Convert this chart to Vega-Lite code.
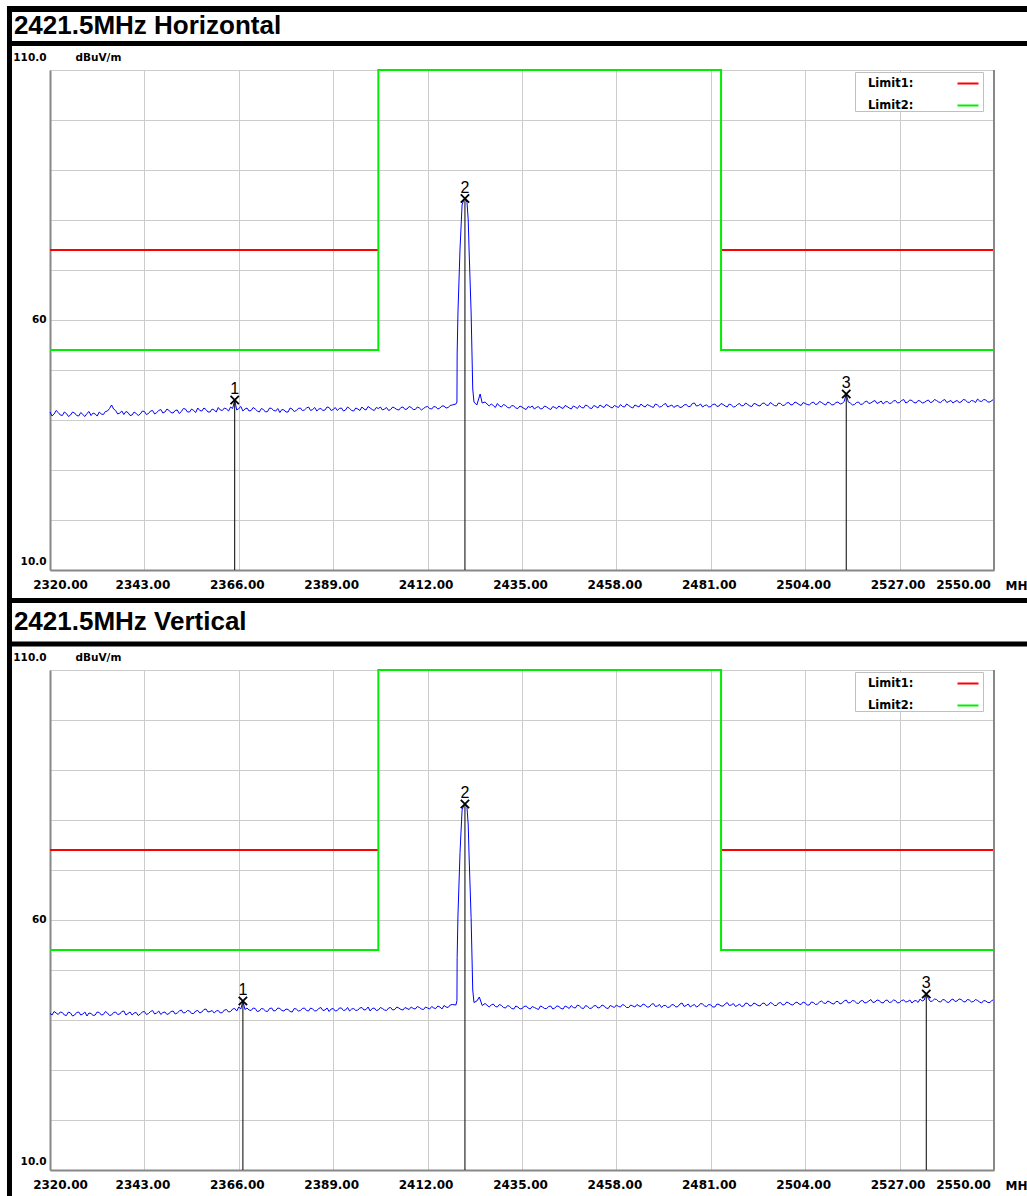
{
"$schema":"https://vega.github.io/schema/vega-lite/v6.json",
"padding":{"left":5,"top":4,"right":0,"bottom":0},
"background":"white",
"bounds":"flush",
"spacing":100,
"resolve":{"scale":{"color":"independent"}},
"datasets":{
"h":[{"f":2320,"L":41.6},{"f":2321,"L":41.2},{"f":2322,"L":41.5},{"f":2323,"L":40.9},{"f":2324,"L":41.3},{"f":2325,"L":41.0},{"f":2326,"L":41.4},{"f":2327,"L":40.8},{"f":2328,"L":41.1},{"f":2329,"L":41.3},{"f":2330,"L":40.9},{"f":2331,"L":41.2},{"f":2332,"L":41.6},{"f":2333,"L":41.1},{"f":2334,"L":41.8},{"f":2335,"L":43.0},{"f":2336,"L":41.9},{"f":2337,"L":41.4},{"f":2338,"L":41.1},{"f":2339,"L":41.5},{"f":2340,"L":41.0},{"f":2341,"L":41.3},{"f":2342,"L":41.2},{"f":2343,"L":41.7},{"f":2344,"L":41.3},{"f":2345,"L":41.9},{"f":2346,"L":41.5},{"f":2347,"L":42.1},{"f":2348,"L":41.6},{"f":2349,"L":41.9},{"f":2350,"L":41.4},{"f":2351,"L":42.0},{"f":2352,"L":41.7},{"f":2353,"L":42.2},{"f":2354,"L":41.6},{"f":2355,"L":41.9},{"f":2356,"L":42.4},{"f":2357,"L":41.8},{"f":2358,"L":42.1},{"f":2359,"L":41.6},{"f":2360,"L":42.0},{"f":2361,"L":42.5},{"f":2362,"L":41.9},{"f":2363,"L":42.2},{"f":2364,"L":42.6},{"f":2365,"L":44.0},{"f":2366,"L":42.3},{"f":2367,"L":41.8},{"f":2368,"L":42.4},{"f":2369,"L":41.9},{"f":2370,"L":42.2},{"f":2371,"L":41.6},{"f":2372,"L":42.1},{"f":2373,"L":41.7},{"f":2374,"L":42.3},{"f":2375,"L":41.8},{"f":2376,"L":41.5},{"f":2377,"L":42.0},{"f":2378,"L":41.6},{"f":2379,"L":42.2},{"f":2380,"L":41.9},{"f":2381,"L":42.4},{"f":2382,"L":42.0},{"f":2383,"L":42.6},{"f":2384,"L":42.1},{"f":2385,"L":41.8},{"f":2386,"L":42.3},{"f":2387,"L":42.0},{"f":2388,"L":42.5},{"f":2389,"L":42.1},{"f":2390,"L":41.9},{"f":2391,"L":42.4},{"f":2392,"L":42.0},{"f":2393,"L":42.3},{"f":2394,"L":41.8},{"f":2395,"L":42.2},{"f":2396,"L":42.6},{"f":2397,"L":42.0},{"f":2398,"L":42.4},{"f":2399,"L":41.9},{"f":2400,"L":42.3},{"f":2401,"L":42.0},{"f":2402,"L":42.5},{"f":2403,"L":42.1},{"f":2404,"L":42.4},{"f":2405,"L":42.0},{"f":2406,"L":42.6},{"f":2407,"L":42.2},{"f":2408,"L":42.5},{"f":2409,"L":42.1},{"f":2410,"L":42.4},{"f":2411,"L":42.3},{"f":2412,"L":42.7},{"f":2413,"L":42.2},{"f":2414,"L":42.6},{"f":2415,"L":42.4},{"f":2416,"L":42.8},{"f":2417,"L":42.5},{"f":2418,"L":43.0},{"f":2418.9,"L":43.2},{"f":2419.15,"L":43.6},{"f":2419.2,"L":53.2},{"f":2419.4,"L":61.6},{"f":2419.9,"L":74.2},{"f":2420.4,"L":83.0},{"f":2420.8,"L":84.0},{"f":2421.1,"L":84.3},{"f":2421.6,"L":83.5},{"f":2421.9,"L":80.0},{"f":2422.1,"L":74.2},{"f":2422.6,"L":61.6},{"f":2423.0,"L":46.2},{"f":2423.3,"L":43.6},{"f":2424,"L":43.0},{"f":2424.8,"L":45.2},{"f":2425.3,"L":43.4},{"f":2426,"L":43.6},{"f":2427,"L":42.8},{"f":2428,"L":42.9},{"f":2429,"L":43.3},{"f":2430,"L":42.6},{"f":2431,"L":42.9},{"f":2432,"L":42.4},{"f":2433,"L":42.8},{"f":2434,"L":42.3},{"f":2435,"L":42.6},{"f":2436,"L":42.1},{"f":2437,"L":42.5},{"f":2438,"L":42.2},{"f":2439,"L":42.7},{"f":2440,"L":42.3},{"f":2441,"L":42.6},{"f":2442,"L":42.1},{"f":2443,"L":42.5},{"f":2444,"L":42.8},{"f":2445,"L":42.3},{"f":2446,"L":42.7},{"f":2447,"L":42.2},{"f":2448,"L":42.6},{"f":2449,"L":42.9},{"f":2450,"L":42.4},{"f":2451,"L":42.8},{"f":2452,"L":42.3},{"f":2453,"L":42.7},{"f":2454,"L":43.0},{"f":2455,"L":42.5},{"f":2456,"L":42.9},{"f":2457,"L":42.4},{"f":2458,"L":42.7},{"f":2459,"L":43.1},{"f":2460,"L":42.6},{"f":2461,"L":42.9},{"f":2462,"L":42.4},{"f":2463,"L":42.8},{"f":2464,"L":43.2},{"f":2465,"L":42.6},{"f":2466,"L":42.9},{"f":2467,"L":42.5},{"f":2468,"L":43.0},{"f":2469,"L":42.7},{"f":2470,"L":43.3},{"f":2471,"L":42.8},{"f":2472,"L":42.5},{"f":2473,"L":42.9},{"f":2474,"L":42.6},{"f":2475,"L":43.1},{"f":2476,"L":42.7},{"f":2477,"L":43.4},{"f":2478,"L":42.9},{"f":2479,"L":42.6},{"f":2480,"L":43.0},{"f":2481,"L":42.7},{"f":2482,"L":43.2},{"f":2483,"L":42.8},{"f":2484,"L":43.1},{"f":2485,"L":42.6},{"f":2486,"L":43.0},{"f":2487,"L":42.7},{"f":2488,"L":43.3},{"f":2489,"L":42.9},{"f":2490,"L":43.1},{"f":2491,"L":42.7},{"f":2492,"L":43.2},{"f":2493,"L":42.8},{"f":2494,"L":43.4},{"f":2495,"L":42.9},{"f":2496,"L":43.2},{"f":2497,"L":42.8},{"f":2498,"L":43.3},{"f":2499,"L":43.0},{"f":2500,"L":43.5},{"f":2501,"L":43.1},{"f":2502,"L":43.4},{"f":2503,"L":42.9},{"f":2504,"L":43.3},{"f":2505,"L":43.0},{"f":2506,"L":43.6},{"f":2507,"L":43.2},{"f":2508,"L":43.5},{"f":2509,"L":43.0},{"f":2510,"L":43.4},{"f":2511,"L":43.1},{"f":2512,"L":43.6},{"f":2513,"L":43.3},{"f":2514,"L":45.2},{"f":2515,"L":43.4},{"f":2516,"L":43.1},{"f":2517,"L":43.6},{"f":2518,"L":43.2},{"f":2519,"L":43.8},{"f":2520,"L":43.4},{"f":2521,"L":43.9},{"f":2522,"L":43.5},{"f":2523,"L":43.2},{"f":2524,"L":43.7},{"f":2525,"L":43.4},{"f":2526,"L":43.9},{"f":2527,"L":43.5},{"f":2528,"L":44.1},{"f":2529,"L":43.6},{"f":2530,"L":43.9},{"f":2531,"L":43.4},{"f":2532,"L":43.8},{"f":2533,"L":43.5},{"f":2534,"L":44.0},{"f":2535,"L":43.6},{"f":2536,"L":43.9},{"f":2537,"L":43.5},{"f":2538,"L":44.1},{"f":2539,"L":43.7},{"f":2540,"L":43.4},{"f":2541,"L":43.9},{"f":2542,"L":43.6},{"f":2543,"L":44.0},{"f":2544,"L":43.5},{"f":2545,"L":43.8},{"f":2546,"L":44.2},{"f":2547,"L":43.7},{"f":2548,"L":44.0},{"f":2549,"L":43.6},{"f":2550,"L":44.2},
{"f":2320.5,"L":40.8},{"f":2321.5,"L":41.9},{"f":2322.5,"L":41.0},{"f":2323.5,"L":41.6},{"f":2324.5,"L":40.7},{"f":2325.5,"L":41.6},{"f":2326.5,"L":40.9},{"f":2327.5,"L":41.5},{"f":2328.5,"L":40.7},{"f":2329.5,"L":41.7},{"f":2330.5,"L":41.4},{"f":2331.5,"L":40.8},{"f":2332.5,"L":41.2},{"f":2333.5,"L":41.7},{"f":2334.5,"L":42.3},{"f":2335.5,"L":42.2},{"f":2336.5,"L":41.2},{"f":2337.5,"L":41.8},{"f":2338.5,"L":41.7},{"f":2339.5,"L":40.9},{"f":2340.5,"L":41.6},{"f":2341.5,"L":40.9},{"f":2342.5,"L":41.8},{"f":2343.5,"L":41.1},{"f":2344.5,"L":41.8},{"f":2345.5,"L":41.2},{"f":2346.5,"L":41.9},{"f":2347.5,"L":41.4},{"f":2348.5,"L":42.2},{"f":2349.5,"L":41.5},{"f":2350.5,"L":41.9},{"f":2351.5,"L":41.3},{"f":2352.5,"L":42.3},{"f":2353.5,"L":41.6},{"f":2354.5,"L":42.2},{"f":2355.5,"L":41.5},{"f":2356.5,"L":41.9},{"f":2357.5,"L":42.4},{"f":2358.5,"L":41.6},{"f":2359.5,"L":42.2},{"f":2360.5,"L":41.6},{"f":2361.5,"L":42.0},{"f":2362.5,"L":42.4},{"f":2363.5,"L":41.8},{"f":2364.5,"L":42.3},{"f":2365.5,"L":42.0},{"f":2366.5,"L":42.7},{"f":2367.5,"L":42.2},{"f":2368.5,"L":41.8},{"f":2369.5,"L":42.5},{"f":2370.5,"L":41.8},{"f":2371.5,"L":42.3},{"f":2372.5,"L":41.6},{"f":2373.5,"L":42.4},{"f":2374.5,"L":41.9},{"f":2375.5,"L":42.3},{"f":2376.5,"L":42.1},{"f":2377.5,"L":41.6},{"f":2378.5,"L":42.4},{"f":2379.5,"L":41.7},{"f":2380.5,"L":42.3},{"f":2381.5,"L":41.9},{"f":2382.5,"L":42.4},{"f":2383.5,"L":41.9},{"f":2384.5,"L":42.5},{"f":2385.5,"L":42.2},{"f":2386.5,"L":41.9},{"f":2387.5,"L":42.6},{"f":2388.5,"L":41.9},{"f":2389.5,"L":42.5},{"f":2390.5,"L":42.3},{"f":2391.5,"L":41.8},{"f":2392.5,"L":42.6},{"f":2393.5,"L":41.9},{"f":2394.5,"L":42.4},{"f":2395.5,"L":41.9},{"f":2396.5,"L":42.2},{"f":2397.5,"L":42.7},{"f":2398.5,"L":42.1},{"f":2399.5,"L":42.5},{"f":2400.5,"L":42.6},{"f":2401.5,"L":42.2},{"f":2402.5,"L":41.9},{"f":2403.5,"L":42.6},{"f":2404.5,"L":42.1},{"f":2405.5,"L":42.5},{"f":2406.5,"L":42.1},{"f":2407.5,"L":42.7},{"f":2408.5,"L":42.1},{"f":2409.5,"L":42.6},{"f":2410.5,"L":42.0},{"f":2411.5,"L":42.6},{"f":2412.5,"L":42.3},{"f":2413.5,"L":42.7},{"f":2414.5,"L":42.2},{"f":2415.5,"L":42.8},{"f":2416.5,"L":42.4},{"f":2417.5,"L":42.9},{"f":2427.5,"L":43.2},{"f":2428.5,"L":42.5},{"f":2429.5,"L":42.8},{"f":2430.5,"L":43.1},{"f":2431.5,"L":42.5},{"f":2432.5,"L":42.9},{"f":2433.5,"L":42.4},{"f":2434.5,"L":42.8},{"f":2435.5,"L":42.3},{"f":2436.5,"L":42.7},{"f":2437.5,"L":42.8},{"f":2438.5,"L":42.5},{"f":2439.5,"L":42.2},{"f":2440.5,"L":42.8},{"f":2441.5,"L":42.3},{"f":2442.5,"L":42.7},{"f":2443.5,"L":42.3},{"f":2444.5,"L":42.5},{"f":2445.5,"L":42.9},{"f":2446.5,"L":42.4},{"f":2447.5,"L":42.8},{"f":2448.5,"L":42.3},{"f":2449.5,"L":42.5},{"f":2450.5,"L":43.0},{"f":2451.5,"L":42.4},{"f":2452.5,"L":42.9},{"f":2453.5,"L":42.4},{"f":2454.5,"L":42.7},{"f":2455.5,"L":43.1},{"f":2456.5,"L":42.6},{"f":2457.5,"L":42.9},{"f":2458.5,"L":42.5},{"f":2459.5,"L":42.7},{"f":2460.5,"L":43.2},{"f":2461.5,"L":42.6},{"f":2462.5,"L":43.0},{"f":2463.5,"L":42.6},{"f":2464.5,"L":42.8},{"f":2465.5,"L":43.1},{"f":2466.5,"L":42.7},{"f":2467.5,"L":43.2},{"f":2468.5,"L":42.6},{"f":2469.5,"L":43.1},{"f":2470.5,"L":42.6},{"f":2471.5,"L":43.0},{"f":2472.5,"L":42.8},{"f":2473.5,"L":42.5},{"f":2474.5,"L":43.0},{"f":2475.5,"L":42.7},{"f":2476.5,"L":43.3},{"f":2477.5,"L":42.8},{"f":2478.5,"L":43.2},{"f":2479.5,"L":42.9},{"f":2480.5,"L":42.6},{"f":2481.5,"L":43.1},{"f":2482.5,"L":42.7},{"f":2483.5,"L":43.3},{"f":2484.5,"L":42.8},{"f":2485.5,"L":43.2},{"f":2486.5,"L":42.6},{"f":2487.5,"L":43.1},{"f":2488.5,"L":42.8},{"f":2489.5,"L":43.4},{"f":2490.5,"L":42.8},{"f":2491.5,"L":43.3},{"f":2492.5,"L":42.9},{"f":2493.5,"L":43.3},{"f":2494.5,"L":43.0},{"f":2495.5,"L":43.5},{"f":2496.5,"L":42.9},{"f":2497.5,"L":43.4},{"f":2498.5,"L":42.9},{"f":2499.5,"L":43.4},{"f":2500.5,"L":43.0},{"f":2501.5,"L":43.6},{"f":2502.5,"L":43.1},{"f":2503.5,"L":43.5},{"f":2504.5,"L":43.1},{"f":2505.5,"L":43.4},{"f":2506.5,"L":43.1},{"f":2507.5,"L":43.7},{"f":2508.5,"L":43.2},{"f":2509.5,"L":43.6},{"f":2510.5,"L":43.0},{"f":2511.5,"L":43.5},{"f":2512.5,"L":43.2},{"f":2513.5,"L":43.7},{"f":2514.5,"L":43.6},{"f":2515.5,"L":43.0},{"f":2516.5,"L":43.5},{"f":2517.5,"L":43.1},{"f":2518.5,"L":43.6},{"f":2519.5,"L":43.3},{"f":2520.5,"L":43.7},{"f":2521.5,"L":43.3},{"f":2522.5,"L":43.8},{"f":2523.5,"L":43.6},{"f":2524.5,"L":43.3},{"f":2525.5,"L":43.8},{"f":2526.5,"L":43.4},{"f":2527.5,"L":43.9},{"f":2528.5,"L":43.4},{"f":2529.5,"L":44.0},{"f":2530.5,"L":43.5},{"f":2531.5,"L":43.9},{"f":2532.5,"L":43.4},{"f":2533.5,"L":43.8},{"f":2534.5,"L":43.5},{"f":2535.5,"L":44.1},{"f":2536.5,"L":43.6},{"f":2537.5,"L":43.9},{"f":2538.5,"L":43.5},{"f":2539.5,"L":43.9},{"f":2540.5,"L":43.7},{"f":2541.5,"L":43.5},{"f":2542.5,"L":44.1},{"f":2543.5,"L":43.6},{"f":2544.5,"L":43.9},{"f":2545.5,"L":43.5},{"f":2546.5,"L":43.8},{"f":2547.5,"L":44.1},{"f":2548.5,"L":43.6},{"f":2549.5,"L":43.9}],
"v":[{"f":2320,"L":41.3},{"f":2321,"L":41.7},{"f":2322,"L":41.1},{"f":2323,"L":41.5},{"f":2324,"L":40.9},{"f":2325,"L":41.4},{"f":2326,"L":41.0},{"f":2327,"L":41.6},{"f":2328,"L":41.2},{"f":2329,"L":40.8},{"f":2330,"L":41.3},{"f":2331,"L":41.0},{"f":2332,"L":41.5},{"f":2333,"L":41.1},{"f":2334,"L":41.4},{"f":2335,"L":41.0},{"f":2336,"L":41.6},{"f":2337,"L":41.2},{"f":2338,"L":41.8},{"f":2339,"L":41.3},{"f":2340,"L":41.0},{"f":2341,"L":41.5},{"f":2342,"L":41.2},{"f":2343,"L":41.7},{"f":2344,"L":41.3},{"f":2345,"L":41.9},{"f":2346,"L":41.4},{"f":2347,"L":41.1},{"f":2348,"L":41.6},{"f":2349,"L":41.3},{"f":2350,"L":41.8},{"f":2351,"L":41.4},{"f":2352,"L":42.0},{"f":2353,"L":41.5},{"f":2354,"L":41.8},{"f":2355,"L":41.3},{"f":2356,"L":41.9},{"f":2357,"L":41.6},{"f":2358,"L":42.2},{"f":2359,"L":41.7},{"f":2360,"L":41.4},{"f":2361,"L":41.9},{"f":2362,"L":41.5},{"f":2363,"L":42.1},{"f":2364,"L":41.7},{"f":2365,"L":42.3},{"f":2366,"L":42.6},{"f":2367,"L":43.8},{"f":2368,"L":42.4},{"f":2369,"L":41.9},{"f":2370,"L":42.3},{"f":2371,"L":41.8},{"f":2372,"L":42.2},{"f":2373,"L":41.7},{"f":2374,"L":42.4},{"f":2375,"L":41.9},{"f":2376,"L":42.3},{"f":2377,"L":41.8},{"f":2378,"L":42.1},{"f":2379,"L":41.6},{"f":2380,"L":42.2},{"f":2381,"L":41.9},{"f":2382,"L":42.4},{"f":2383,"L":41.8},{"f":2384,"L":42.2},{"f":2385,"L":41.9},{"f":2386,"L":42.5},{"f":2387,"L":42.0},{"f":2388,"L":41.7},{"f":2389,"L":42.3},{"f":2390,"L":41.9},{"f":2391,"L":42.4},{"f":2392,"L":42.0},{"f":2393,"L":41.8},{"f":2394,"L":42.3},{"f":2395,"L":42.0},{"f":2396,"L":42.5},{"f":2397,"L":42.1},{"f":2398,"L":41.8},{"f":2399,"L":42.4},{"f":2400,"L":42.0},{"f":2401,"L":42.3},{"f":2402,"L":41.9},{"f":2403,"L":42.5},{"f":2404,"L":42.1},{"f":2405,"L":42.4},{"f":2406,"L":42.0},{"f":2407,"L":42.3},{"f":2408,"L":42.6},{"f":2409,"L":42.2},{"f":2410,"L":42.5},{"f":2411,"L":42.1},{"f":2412,"L":42.4},{"f":2413,"L":42.7},{"f":2414,"L":42.3},{"f":2415,"L":42.6},{"f":2416,"L":42.9},{"f":2417,"L":42.5},{"f":2418,"L":43.1},{"f":2418.9,"L":43.0},{"f":2419.15,"L":43.9},{"f":2419.2,"L":52.5},{"f":2419.4,"L":61.0},{"f":2419.9,"L":73.5},{"f":2420.4,"L":82.0},{"f":2420.8,"L":82.9},{"f":2421.1,"L":83.2},{"f":2421.6,"L":82.5},{"f":2421.9,"L":79.0},{"f":2422.1,"L":73.0},{"f":2422.6,"L":60.5},{"f":2423.0,"L":46.0},{"f":2423.3,"L":43.5},{"f":2424,"L":43.8},{"f":2424.6,"L":44.6},{"f":2425.3,"L":42.9},{"f":2426,"L":43.3},{"f":2427,"L":42.6},{"f":2428,"L":43.2},{"f":2429,"L":42.6},{"f":2430,"L":42.9},{"f":2431,"L":42.4},{"f":2432,"L":42.7},{"f":2433,"L":42.2},{"f":2434,"L":42.6},{"f":2435,"L":42.3},{"f":2436,"L":42.8},{"f":2437,"L":42.2},{"f":2438,"L":42.5},{"f":2439,"L":42.1},{"f":2440,"L":42.6},{"f":2441,"L":42.3},{"f":2442,"L":42.8},{"f":2443,"L":42.4},{"f":2444,"L":42.7},{"f":2445,"L":42.2},{"f":2446,"L":42.6},{"f":2447,"L":42.9},{"f":2448,"L":42.4},{"f":2449,"L":42.8},{"f":2450,"L":42.3},{"f":2451,"L":42.7},{"f":2452,"L":42.4},{"f":2453,"L":42.9},{"f":2454,"L":42.5},{"f":2455,"L":42.8},{"f":2456,"L":42.3},{"f":2457,"L":42.7},{"f":2458,"L":43.0},{"f":2459,"L":42.6},{"f":2460,"L":42.9},{"f":2461,"L":42.5},{"f":2462,"L":42.8},{"f":2463,"L":43.1},{"f":2464,"L":42.7},{"f":2465,"L":43.0},{"f":2466,"L":42.6},{"f":2467,"L":43.3},{"f":2468,"L":42.8},{"f":2469,"L":42.5},{"f":2470,"L":42.9},{"f":2471,"L":42.6},{"f":2472,"L":43.0},{"f":2473,"L":42.7},{"f":2474,"L":43.4},{"f":2475,"L":42.9},{"f":2476,"L":42.6},{"f":2477,"L":43.1},{"f":2478,"L":42.8},{"f":2479,"L":43.2},{"f":2480,"L":42.7},{"f":2481,"L":43.0},{"f":2482,"L":42.6},{"f":2483,"L":43.1},{"f":2484,"L":42.8},{"f":2485,"L":43.5},{"f":2486,"L":43.0},{"f":2487,"L":42.7},{"f":2488,"L":43.2},{"f":2489,"L":42.8},{"f":2490,"L":43.3},{"f":2491,"L":42.9},{"f":2492,"L":43.2},{"f":2493,"L":42.8},{"f":2494,"L":43.4},{"f":2495,"L":43.0},{"f":2496,"L":43.3},{"f":2497,"L":42.9},{"f":2498,"L":43.5},{"f":2499,"L":43.1},{"f":2500,"L":43.4},{"f":2501,"L":43.0},{"f":2502,"L":43.6},{"f":2503,"L":43.1},{"f":2504,"L":43.4},{"f":2505,"L":43.0},{"f":2506,"L":43.5},{"f":2507,"L":43.2},{"f":2508,"L":43.8},{"f":2509,"L":43.3},{"f":2510,"L":43.6},{"f":2511,"L":43.2},{"f":2512,"L":43.7},{"f":2513,"L":43.4},{"f":2514,"L":44.0},{"f":2515,"L":43.5},{"f":2516,"L":43.8},{"f":2517,"L":43.3},{"f":2518,"L":43.9},{"f":2519,"L":43.5},{"f":2520,"L":44.1},{"f":2521,"L":43.6},{"f":2522,"L":43.9},{"f":2523,"L":43.4},{"f":2524,"L":44.0},{"f":2525,"L":43.6},{"f":2526,"L":43.9},{"f":2527,"L":43.5},{"f":2528,"L":44.0},{"f":2529,"L":43.7},{"f":2530,"L":43.4},{"f":2531,"L":43.9},{"f":2532,"L":44.2},{"f":2533,"L":44.0},{"f":2533.5,"L":45.2},{"f":2534,"L":44.3},{"f":2535,"L":43.8},{"f":2536,"L":44.1},{"f":2537,"L":43.6},{"f":2538,"L":44.0},{"f":2539,"L":43.5},{"f":2540,"L":44.2},{"f":2541,"L":43.8},{"f":2542,"L":44.1},{"f":2543,"L":43.6},{"f":2544,"L":44.0},{"f":2545,"L":43.7},{"f":2546,"L":43.9},{"f":2547,"L":43.4},{"f":2548,"L":43.8},{"f":2549,"L":43.5},{"f":2550,"L":44.1},
{"f":2320.5,"L":41.0},{"f":2321.5,"L":41.4},{"f":2322.5,"L":41.6},{"f":2323.5,"L":41.0},{"f":2324.5,"L":41.6},{"f":2325.5,"L":40.8},{"f":2326.5,"L":41.5},{"f":2327.5,"L":41.0},{"f":2328.5,"L":41.6},{"f":2329.5,"L":41.4},{"f":2330.5,"L":40.9},{"f":2331.5,"L":41.6},{"f":2332.5,"L":41.0},{"f":2333.5,"L":41.7},{"f":2334.5,"L":40.9},{"f":2335.5,"L":41.5},{"f":2336.5,"L":41.1},{"f":2337.5,"L":41.7},{"f":2338.5,"L":41.0},{"f":2339.5,"L":41.6},{"f":2340.5,"L":41.4},{"f":2341.5,"L":40.9},{"f":2342.5,"L":41.6},{"f":2343.5,"L":41.1},{"f":2344.5,"L":41.7},{"f":2345.5,"L":41.2},{"f":2346.5,"L":41.8},{"f":2347.5,"L":41.5},{"f":2348.5,"L":41.1},{"f":2349.5,"L":41.7},{"f":2350.5,"L":41.2},{"f":2351.5,"L":41.8},{"f":2352.5,"L":41.4},{"f":2353.5,"L":41.9},{"f":2354.5,"L":41.3},{"f":2355.5,"L":41.8},{"f":2356.5,"L":41.4},{"f":2357.5,"L":42.1},{"f":2358.5,"L":41.6},{"f":2359.5,"L":41.9},{"f":2360.5,"L":41.8},{"f":2361.5,"L":41.4},{"f":2362.5,"L":42.0},{"f":2363.5,"L":41.6},{"f":2364.5,"L":42.2},{"f":2365.5,"L":41.8},{"f":2366.5,"L":42.2},{"f":2367.5,"L":42.1},{"f":2368.5,"L":42.0},{"f":2369.5,"L":42.4},{"f":2370.5,"L":41.7},{"f":2371.5,"L":42.3},{"f":2372.5,"L":41.8},{"f":2373.5,"L":42.3},{"f":2374.5,"L":41.8},{"f":2375.5,"L":42.4},{"f":2376.5,"L":41.9},{"f":2377.5,"L":42.2},{"f":2378.5,"L":41.7},{"f":2379.5,"L":42.3},{"f":2380.5,"L":41.8},{"f":2381.5,"L":42.3},{"f":2382.5,"L":41.9},{"f":2383.5,"L":42.4},{"f":2384.5,"L":41.8},{"f":2385.5,"L":42.3},{"f":2386.5,"L":41.9},{"f":2387.5,"L":42.4},{"f":2388.5,"L":42.2},{"f":2389.5,"L":41.8},{"f":2390.5,"L":42.4},{"f":2391.5,"L":41.9},{"f":2392.5,"L":42.5},{"f":2393.5,"L":42.2},{"f":2394.5,"L":41.9},{"f":2395.5,"L":42.4},{"f":2396.5,"L":42.0},{"f":2397.5,"L":42.6},{"f":2398.5,"L":42.3},{"f":2399.5,"L":41.9},{"f":2400.5,"L":42.5},{"f":2401.5,"L":42.0},{"f":2402.5,"L":42.4},{"f":2403.5,"L":42.0},{"f":2404.5,"L":42.6},{"f":2405.5,"L":42.1},{"f":2406.5,"L":42.5},{"f":2407.5,"L":42.1},{"f":2408.5,"L":42.3},{"f":2409.5,"L":42.7},{"f":2410.5,"L":42.2},{"f":2411.5,"L":42.6},{"f":2412.5,"L":42.2},{"f":2413.5,"L":42.4},{"f":2414.5,"L":42.8},{"f":2415.5,"L":42.2},{"f":2416.5,"L":42.6},{"f":2417.5,"L":43.0},{"f":2427.5,"L":43.0},{"f":2428.5,"L":42.7},{"f":2429.5,"L":43.1},{"f":2430.5,"L":42.5},{"f":2431.5,"L":42.9},{"f":2432.5,"L":42.3},{"f":2433.5,"L":42.8},{"f":2434.5,"L":42.2},{"f":2435.5,"L":42.7},{"f":2436.5,"L":42.4},{"f":2437.5,"L":42.7},{"f":2438.5,"L":42.3},{"f":2439.5,"L":42.8},{"f":2440.5,"L":42.3},{"f":2441.5,"L":42.7},{"f":2442.5,"L":42.2},{"f":2443.5,"L":42.8},{"f":2444.5,"L":42.3},{"f":2445.5,"L":42.8},{"f":2446.5,"L":42.3},{"f":2447.5,"L":42.5},{"f":2448.5,"L":43.0},{"f":2449.5,"L":42.4},{"f":2450.5,"L":42.9},{"f":2451.5,"L":42.3},{"f":2452.5,"L":42.8},{"f":2453.5,"L":42.4},{"f":2454.5,"L":43.0},{"f":2455.5,"L":42.4},{"f":2456.5,"L":42.9},{"f":2457.5,"L":42.5},{"f":2458.5,"L":42.7},{"f":2459.5,"L":43.1},{"f":2460.5,"L":42.5},{"f":2461.5,"L":43.0},{"f":2462.5,"L":42.6},{"f":2463.5,"L":42.8},{"f":2464.5,"L":43.2},{"f":2465.5,"L":42.6},{"f":2466.5,"L":43.1},{"f":2467.5,"L":42.7},{"f":2468.5,"L":43.1},{"f":2469.5,"L":42.9},{"f":2470.5,"L":42.5},{"f":2471.5,"L":43.1},{"f":2472.5,"L":42.6},{"f":2473.5,"L":43.2},{"f":2474.5,"L":42.7},{"f":2475.5,"L":43.2},{"f":2476.5,"L":42.9},{"f":2477.5,"L":42.6},{"f":2478.5,"L":43.3},{"f":2479.5,"L":42.8},{"f":2480.5,"L":43.1},{"f":2481.5,"L":42.6},{"f":2482.5,"L":43.2},{"f":2483.5,"L":42.8},{"f":2484.5,"L":43.2},{"f":2485.5,"L":42.9},{"f":2486.5,"L":43.3},{"f":2487.5,"L":42.9},{"f":2488.5,"L":42.7},{"f":2489.5,"L":43.4},{"f":2490.5,"L":42.8},{"f":2491.5,"L":43.4},{"f":2492.5,"L":42.9},{"f":2493.5,"L":43.3},{"f":2494.5,"L":42.9},{"f":2495.5,"L":43.5},{"f":2496.5,"L":42.9},{"f":2497.5,"L":43.4},{"f":2498.5,"L":43.0},{"f":2499.5,"L":43.6},{"f":2500.5,"L":43.1},{"f":2501.5,"L":43.4},{"f":2502.5,"L":43.2},{"f":2503.5,"L":43.6},{"f":2504.5,"L":43.0},{"f":2505.5,"L":43.6},{"f":2506.5,"L":43.1},{"f":2507.5,"L":43.6},{"f":2508.5,"L":43.4},{"f":2509.5,"L":43.8},{"f":2510.5,"L":43.3},{"f":2511.5,"L":43.7},{"f":2512.5,"L":43.2},{"f":2513.5,"L":43.8},{"f":2514.5,"L":43.4},{"f":2515.5,"L":43.9},{"f":2516.5,"L":43.4},{"f":2517.5,"L":43.8},{"f":2518.5,"L":43.4},{"f":2519.5,"L":43.8},{"f":2520.5,"L":43.5},{"f":2521.5,"L":44.0},{"f":2522.5,"L":43.5},{"f":2523.5,"L":43.9},{"f":2524.5,"L":43.5},{"f":2525.5,"L":44.0},{"f":2526.5,"L":43.4},{"f":2527.5,"L":43.9},{"f":2528.5,"L":43.6},{"f":2529.5,"L":44.0},{"f":2530.5,"L":43.8},{"f":2531.5,"L":43.5},{"f":2532.5,"L":43.8},{"f":2534.5,"L":43.7},{"f":2535.5,"L":44.2},{"f":2536.5,"L":43.7},{"f":2537.5,"L":44.1},{"f":2538.5,"L":43.6},{"f":2539.5,"L":44.0},{"f":2540.5,"L":43.7},{"f":2541.5,"L":44.2},{"f":2542.5,"L":43.7},{"f":2543.5,"L":44.1},{"f":2544.5,"L":43.6},{"f":2545.5,"L":44.1},{"f":2546.5,"L":43.6},{"f":2547.5,"L":43.9},{"f":2548.5,"L":43.5},{"f":2549.5,"L":43.9}],
"red":[{"lim":"Limit1","f":2320,"f2":2400,"L":74},{"lim":"Limit1","f":2483.5,"f2":2550,"L":74}],
"green":[{"lim":"Limit2","o":1,"f":2320,"L":54},{"lim":"Limit2","o":2,"f":2400,"L":54},{"lim":"Limit2","o":3,"f":2400,"L":110},{"lim":"Limit2","o":4,"f":2483.5,"L":110},{"lim":"Limit2","o":5,"f":2483.5,"L":54},{"lim":"Limit2","o":6,"f":2550,"L":54}],
"mkh":[{"n":"1","f":2365,"L":44.0},{"n":"2","f":2421.1,"L":84.3},{"n":"3","f":2514,"L":45.2}],
"mkv":[{"n":"1","f":2367,"L":43.8},{"n":"2","f":2421.1,"L":83.2},{"n":"3","f":2533.5,"L":45.2}]
},
"vconcat":[
{"width":944,"height":500,
"layer":[
{"data":{"name":"red"},"mark":{"type":"rule","strokeWidth":2},
 "encoding":{"x":{"field":"f","type":"quantitative"},"x2":{"field":"f2"},"y":{"field":"L","type":"quantitative"},
 "color":{"field":"lim","type":"nominal","scale":{"domain":["Limit1","Limit2"],"range":["#ff0000","#00ee00"]},
  "legend":{"orient":"none","legendX":805,"legendY":2,"title":null,"fillColor":"white","strokeColor":"#c0c0c0","padding":0,"symbolType":"stroke","symbolStrokeWidth":2,"symbolSize":441,"rowPadding":5,"labelFont":"DejaVu Sans","labelFontWeight":"bold","labelFontSize":11.5,"labelColor":"black","labelExpr":"datum.label + ':'","encode":{"labels":{"update":{"x":{"value":13}}},"symbols":{"update":{"x":{"value":113}}}}}}}},
{"data":{"name":"green"},"mark":{"type":"line","strokeWidth":2},
 "encoding":{"x":{"field":"f","type":"quantitative"},"y":{"field":"L","type":"quantitative"},"order":{"field":"o","type":"quantitative"},"color":{"field":"lim","type":"nominal"}}},
{"data":{"name":"h"},"mark":{"type":"line","color":"#0000ff","strokeWidth":1},
 "encoding":{
  "x":{"field":"f","type":"quantitative","scale":{"domain":[2320,2550],"nice":false,"zero":false},
   "axis":{"values":[2320,2343,2366,2389,2412,2435,2458,2481,2504,2527,2550],"format":".2f","labelFlush":false,"labelOverlap":false,"ticks":false,"tickSize":0,"labelPadding":9,"labelFont":"DejaVu Sans","labelFontWeight":"bold","labelFontSize":12,"labelColor":"black","labelOffset":{"condition":[{"test":"datum.value == 2320","value":10},{"test":"datum.value == 2550","value":-31}],"value":-2},"grid":true,"gridColor":"#cccccc","gridWidth":1,"domain":true,"domainColor":"#888888","domainWidth":2,"title":"MHz","titleX":955,"titleY":19,"titleAlign":"left","titleBaseline":"alphabetic","titleFont":"DejaVu Sans","titleFontWeight":"bold","titleFontSize":12,"titleColor":"black"}},
  "y":{"field":"L","type":"quantitative","scale":{"domain":[10,110],"nice":false,"zero":false},
   "axis":{"values":[10,20,30,40,50,60,70,80,90,100,110],"labelExpr":"datum.value == 110 ? '110.0' : datum.value == 60 ? '60' : datum.value == 10 ? '10.0' : ''","labelFlush":false,"labelOverlap":false,"ticks":false,"tickSize":0,"labelPadding":4,"labelFont":"DejaVu Sans","labelFontWeight":"bold","labelFontSize":10.5,"labelColor":"black","labelBaseline":"alphabetic","labelOffset":{"condition":[{"test":"datum.value == 110","value":-10},{"test":"datum.value == 10","value":-6}],"value":2},"grid":true,"gridColor":"#cccccc","gridWidth":1,"domain":true,"domainColor":"#888888","domainWidth":2,"title":"dBuV/m","titleAngle":0,"titleX":25,"titleY":-10,"titleAlign":"left","titleBaseline":"alphabetic","titleFont":"DejaVu Sans","titleFontWeight":"bold","titleFontSize":10.5,"titleColor":"black"}}}},
{"data":{"name":"mkh"},"mark":{"type":"rule","color":"black","strokeWidth":1},"encoding":{"x":{"field":"f","type":"quantitative"},"y":{"field":"L","type":"quantitative"},"y2":{"datum":10}}},
{"data":{"name":"mkh"},"mark":{"type":"point","shape":"M-1,-1L1,1M1,-1L-1,1","size":70,"filled":false,"stroke":"black","strokeWidth":1.8,"opacity":1},"encoding":{"x":{"field":"f","type":"quantitative"},"y":{"field":"L","type":"quantitative"}}},
{"data":{"name":"mkh"},"mark":{"type":"text","dy":-6,"baseline":"alphabetic","font":"Liberation Sans","fontSize":16,"color":"black"},"encoding":{"x":{"field":"f","type":"quantitative"},"y":{"field":"L","type":"quantitative"},"text":{"field":"n"}}},
{"data":{"values":[{}]},"mark":{"type":"rule","color":"#888888","strokeWidth":2},"encoding":{"x":{"datum":2550},"y":{"datum":10},"y2":{"datum":110}}},
{"data":{"values":[{}]},"mark":{"type":"rule","color":"black","strokeWidth":6,"strokeCap":"square"},"encoding":{"x":{"datum":2310.25},"x2":{"datum":2557.8},"y":{"datum":122.2}}},
{"data":{"values":[{}]},"mark":{"type":"rule","color":"black","strokeWidth":5,"strokeCap":"square"},"encoding":{"x":{"datum":2310.25},"x2":{"datum":2557.8},"y":{"datum":115.3}}},
{"data":{"values":[{}]},"mark":{"type":"rule","color":"black","strokeWidth":5,"strokeCap":"square"},"encoding":{"x":{"datum":2310.13},"y":{"datum":122.2},"y2":{"datum":4.0}}},
{"data":{"values":[{}]},"mark":{"type":"text","align":"left","baseline":"alphabetic","font":"Liberation Sans","fontSize":26,"fontWeight":"bold","color":"black"},"encoding":{"x":{"datum":2311.2},"y":{"datum":117.2},"text":{"value":"2421.5MHz Horizontal"}}}
]},
{"width":944,"height":500,
"layer":[
{"data":{"name":"red"},"mark":{"type":"rule","strokeWidth":2},
 "encoding":{"x":{"field":"f","type":"quantitative"},"x2":{"field":"f2"},"y":{"field":"L","type":"quantitative"},
 "color":{"field":"lim","type":"nominal","scale":{"domain":["Limit1","Limit2"],"range":["#ff0000","#00ee00"]},
  "legend":{"orient":"none","legendX":805,"legendY":2,"title":null,"fillColor":"white","strokeColor":"#c0c0c0","padding":0,"symbolType":"stroke","symbolStrokeWidth":2,"symbolSize":441,"rowPadding":5,"labelFont":"DejaVu Sans","labelFontWeight":"bold","labelFontSize":11.5,"labelColor":"black","labelExpr":"datum.label + ':'","encode":{"labels":{"update":{"x":{"value":13}}},"symbols":{"update":{"x":{"value":113}}}}}}}},
{"data":{"name":"green"},"mark":{"type":"line","strokeWidth":2},
 "encoding":{"x":{"field":"f","type":"quantitative"},"y":{"field":"L","type":"quantitative"},"order":{"field":"o","type":"quantitative"},"color":{"field":"lim","type":"nominal"}}},
{"data":{"name":"v"},"mark":{"type":"line","color":"#0000ff","strokeWidth":1},
 "encoding":{
  "x":{"field":"f","type":"quantitative","scale":{"domain":[2320,2550],"nice":false,"zero":false},
   "axis":{"values":[2320,2343,2366,2389,2412,2435,2458,2481,2504,2527,2550],"format":".2f","labelFlush":false,"labelOverlap":false,"ticks":false,"tickSize":0,"labelPadding":9,"labelFont":"DejaVu Sans","labelFontWeight":"bold","labelFontSize":12,"labelColor":"black","labelOffset":{"condition":[{"test":"datum.value == 2320","value":10},{"test":"datum.value == 2550","value":-31}],"value":-2},"grid":true,"gridColor":"#cccccc","gridWidth":1,"domain":true,"domainColor":"#888888","domainWidth":2,"title":"MHz","titleX":955,"titleY":19,"titleAlign":"left","titleBaseline":"alphabetic","titleFont":"DejaVu Sans","titleFontWeight":"bold","titleFontSize":12,"titleColor":"black"}},
  "y":{"field":"L","type":"quantitative","scale":{"domain":[10,110],"nice":false,"zero":false},
   "axis":{"values":[10,20,30,40,50,60,70,80,90,100,110],"labelExpr":"datum.value == 110 ? '110.0' : datum.value == 60 ? '60' : datum.value == 10 ? '10.0' : ''","labelFlush":false,"labelOverlap":false,"ticks":false,"tickSize":0,"labelPadding":4,"labelFont":"DejaVu Sans","labelFontWeight":"bold","labelFontSize":10.5,"labelColor":"black","labelBaseline":"alphabetic","labelOffset":{"condition":[{"test":"datum.value == 110","value":-10},{"test":"datum.value == 10","value":-6}],"value":2},"grid":true,"gridColor":"#cccccc","gridWidth":1,"domain":true,"domainColor":"#888888","domainWidth":2,"title":"dBuV/m","titleAngle":0,"titleX":25,"titleY":-10,"titleAlign":"left","titleBaseline":"alphabetic","titleFont":"DejaVu Sans","titleFontWeight":"bold","titleFontSize":10.5,"titleColor":"black"}}}},
{"data":{"name":"mkv"},"mark":{"type":"rule","color":"black","strokeWidth":1},"encoding":{"x":{"field":"f","type":"quantitative"},"y":{"field":"L","type":"quantitative"},"y2":{"datum":10}}},
{"data":{"name":"mkv"},"mark":{"type":"point","shape":"M-1,-1L1,1M1,-1L-1,1","size":70,"filled":false,"stroke":"black","strokeWidth":1.8,"opacity":1},"encoding":{"x":{"field":"f","type":"quantitative"},"y":{"field":"L","type":"quantitative"}}},
{"data":{"name":"mkv"},"mark":{"type":"text","dy":-6,"baseline":"alphabetic","font":"Liberation Sans","fontSize":16,"color":"black"},"encoding":{"x":{"field":"f","type":"quantitative"},"y":{"field":"L","type":"quantitative"},"text":{"field":"n"}}},
{"data":{"values":[{}]},"mark":{"type":"rule","color":"#888888","strokeWidth":2},"encoding":{"x":{"datum":2550},"y":{"datum":10},"y2":{"datum":110}}},
{"data":{"values":[{}]},"mark":{"type":"rule","color":"black","strokeWidth":5,"strokeCap":"square"},"encoding":{"x":{"datum":2310.25},"x2":{"datum":2557.8},"y":{"datum":123.9}}},
{"data":{"values":[{}]},"mark":{"type":"rule","color":"black","strokeWidth":5,"strokeCap":"square"},"encoding":{"x":{"datum":2310.25},"x2":{"datum":2557.8},"y":{"datum":115.2}}},
{"data":{"values":[{}]},"mark":{"type":"rule","color":"black","strokeWidth":5,"strokeCap":"square"},"encoding":{"x":{"datum":2310.13},"y":{"datum":123.9},"y2":{"datum":4.9}}},
{"data":{"values":[{}]},"mark":{"type":"text","align":"left","baseline":"alphabetic","font":"Liberation Sans","fontSize":26,"fontWeight":"bold","color":"black"},"encoding":{"x":{"datum":2311.2},"y":{"datum":118.0},"text":{"value":"2421.5MHz Vertical"}}}
]}
],
"config":{"view":{"stroke":"#cccccc","strokeWidth":1}}
}
